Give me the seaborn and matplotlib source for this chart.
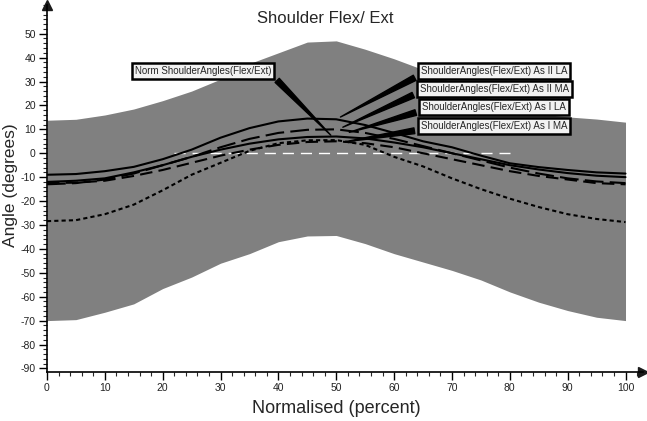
import matplotlib
matplotlib.use("Agg")
import matplotlib.pyplot as plt
import seaborn as sns
import pandas as pd
from matplotlib.ticker import MultipleLocator

# data (every 5 percent)
pct = [0, 5, 10, 15, 20, 25, 30, 35, 40, 45, 50, 55, 60, 65, 70, 75, 80, 85, 90, 95, 100]
band_upper = [13.8, 14.2, 16, 18.5, 22, 26, 31, 37.5, 42, 46.5, 47, 43.5, 39.5, 35, 29.5, 24, 19.5, 16.5, 15.2, 14.3, 13]
band_lower = [-70, -69.6, -66.5, -63, -56.6, -51.8, -46, -42, -37, -34.6, -34.4, -37.8, -42, -45.5, -49, -53, -58, -62.3, -65.8, -68.6, -70]
norm_line = [-9, -8.7, -7.5, -5.7, -2.5, 1.5, 6.5, 10.5, 13.3, 14.5, 14.2, 11.8, 8.5, 5, 2.5, -1, -4.2, -5.8, -7, -8, -8.5]
as2_la = [-13, -12.5, -11, -8.5, -5, -1.5, 2.5, 6, 8.5, 9.8, 10, 8.5, 6, 3, 0, -3, -6, -8.5, -10.5, -11.8, -12.5]
as2_ma = [-12.5, -12.3, -11.5, -9.5, -7, -4, -1, 1.5, 3.5, 4.7, 5, 4.2, 2.5, 0, -2.5, -5, -7.5, -9.5, -11, -12.5, -13]
as1_la = [-12, -11.5, -10.5, -8, -5, -1.5, 1.5, 4, 5.8, 6.8, 7, 6.2, 4.5, 2.5, 0, -2.5, -5, -6.8, -8.3, -9.4, -10]
as1_ma = [-28.4, -28, -25.5, -21.5, -15.5, -9, -4, 1, 4.2, 5.4, 5.5, 3.5, -1.5, -5.5, -10.5, -15, -19, -22.5, -25.5, -27.5, -28.8]

labels = ["Norm ShoulderAngles(Flex/Ext)",
          "ShoulderAngles(Flex/Ext) As II LA",
          "ShoulderAngles(Flex/Ext) As II MA",
          "ShoulderAngles(Flex/Ext) As I LA",
          "ShoulderAngles(Flex/Ext) As I MA"]

sns.set_theme(style="white")
plt.rcParams["font.family"] = ["Liberation Sans", "DejaVu Sans"]
plt.rcParams["axes.unicode_minus"] = False

fig = plt.figure(figsize=(6.47, 4.21), dpi=100)
ax = fig.add_axes([0.0726, 0.1164, 0.921, 0.8717])

ax.fill_between(pct, band_lower, band_upper, color="#808080", lw=0, zorder=1)
ax.hlines(0, 22, 80, color="white", lw=1, ls=(0, (8, 5)), zorder=1.5)

df = pd.DataFrame({"x": pct, "norm": norm_line, "a2la": as2_la, "a2ma": as2_ma,
                   "a1la": as1_la, "a1ma": as1_ma})
styles = {"norm": "-", "a2la": (0, (9, 3)), "a2ma": (0, (6, 3)),
          "a1la": "-", "a1ma": (0, (2, 1.5))}
for col, ls in styles.items():
    sns.lineplot(data=df, x="x", y=col, ax=ax, color="black", lw=1.5,
                 linestyle=ls, zorder=3)

box = dict(boxstyle="square,pad=0.3", fc="#f2f2f2", ec="black", lw=1.8)
wedge = dict(arrowstyle="wedge,tail_width=0.6", fc="black", ec="black")
ax.annotate(labels[0], xy=(49.4, 6.7), xytext=(27, 34.4), fontsize=7,
            ha="center", va="center", bbox=box,
            arrowprops=dict(wedge, relpos=(1, 0.15)), zorder=5)
tips = [(50.3, 14.6), (50.7, 10.4), (51.8, 8.4), (51, 4.6)]
ys = [34.4, 27, 19.3, 11.3]
for lab, tip, yy in zip(labels[1:], tips, ys):
    ax.annotate(lab, xy=tip, xytext=(77.3, yy), fontsize=7,
                ha="center", va="center", bbox=box,
                arrowprops=dict(wedge, relpos=(0, 0.15)), zorder=5)

ax.set_xlim(0, 103)
ax.set_ylim(-91.5, 62)
ax.xaxis.set_minor_locator(MultipleLocator(2))
ax.yaxis.set_minor_locator(MultipleLocator(2))
ax.set_xticks(range(0, 101, 10))
ax.set_yticks(range(-90, 51, 10))
ax.tick_params(axis="both", which="major", length=6, width=1, direction="out",
               labelsize=7.5, colors="black", pad=2, left=True, bottom=True)
ax.tick_params(axis="both", which="minor", length=3, width=0.8, direction="out",
               left=True, bottom=True)
for t in ax.get_xticklabels() + ax.get_yticklabels():
    t.set_color("#222222")

sns.despine(ax=ax)
ax.spines["left"].set_linewidth(1.2)
ax.spines["bottom"].set_linewidth(1.2)
ax.spines["left"].set_color("black")
ax.spines["bottom"].set_color("black")
ax.plot(1, 0, ">k", ms=7, transform=ax.transAxes, clip_on=False)
ax.plot(0, 1, "^k", ms=7, transform=ax.transAxes, clip_on=False)
ax.set_xlabel("")
ax.set_ylabel("")

fig.text(0.503, 0.957, "Shoulder Flex/ Ext", ha="center", va="center", fontsize=12)
fig.text(0.52, 0.03, "Normalised (percent)", ha="center", va="center", fontsize=13)
fig.text(0.016, 0.56, "Angle (degrees)", ha="center", va="center",
         rotation=90, fontsize=12.5)

fig.savefig("out.png", dpi=100)
